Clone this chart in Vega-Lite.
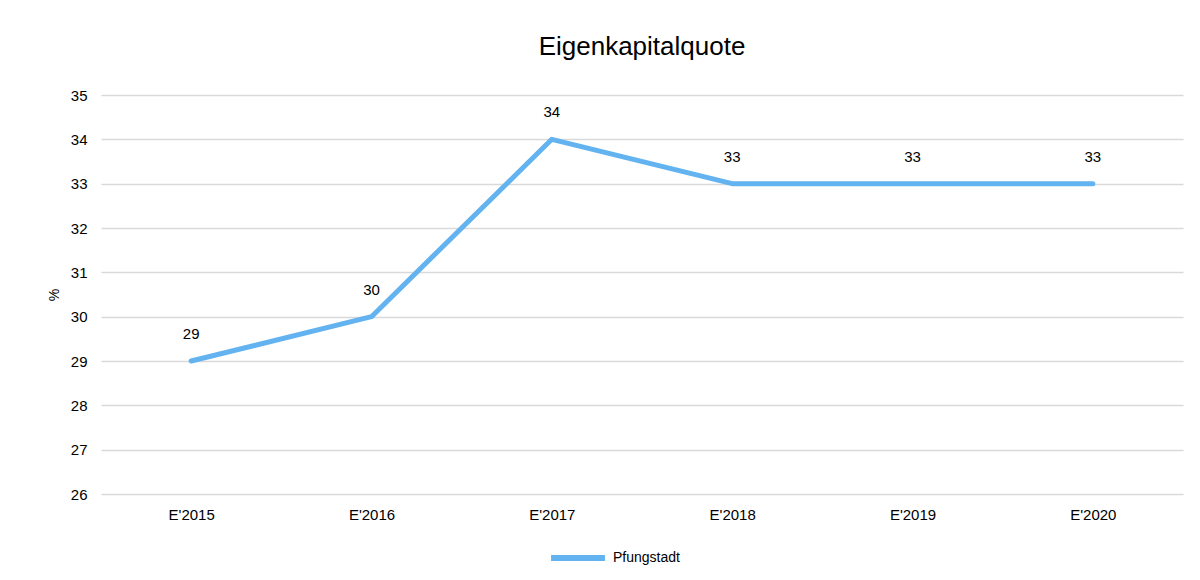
{
  "$schema": "https://vega.github.io/schema/vega-lite/v6.json",
  "autosize": "none",
  "width": 1082,
  "height": 399,
  "padding": {"left": 101, "top": 95, "right": 17, "bottom": 86},
  "background": "white",
  "title": {"text": "Eigenkapitalquote", "fontSize": 26, "font": "Liberation Sans", "fontWeight": "normal", "color": "#000000", "anchor": "middle", "offset": 28},
  "config": {
    "view": {"stroke": null},
    "font": "Liberation Sans"
  },
  "data": {"values": [
    {"jahr": "E'2015", "wert": 29, "serie": "Pfungstadt"},
    {"jahr": "E'2016", "wert": 30, "serie": "Pfungstadt"},
    {"jahr": "E'2017", "wert": 34, "serie": "Pfungstadt"},
    {"jahr": "E'2018", "wert": 33, "serie": "Pfungstadt"},
    {"jahr": "E'2019", "wert": 33, "serie": "Pfungstadt"},
    {"jahr": "E'2020", "wert": 33, "serie": "Pfungstadt"}
  ]},
  "encoding": {
    "x": {"field": "jahr", "type": "nominal", "sort": null,
      "scale": {"paddingInner": 0, "paddingOuter": 0},
      "axis": {"title": null, "labelAngle": 0, "labelFontSize": 15, "labelColor": "#000000", "domain": false, "ticks": false, "grid": false, "labelPadding": 13}},
    "y": {"field": "wert", "type": "quantitative",
      "scale": {"domain": [26, 35], "nice": false, "zero": false},
      "axis": {"title": "%", "titleFontSize": 14, "titleFontWeight": "normal", "titleColor": "#000000", "titlePadding": 9,
        "values": [26, 27, 28, 29, 30, 31, 32, 33, 34, 35],
        "labelFontSize": 15, "labelColor": "#000000", "labelPadding": 14, "domain": false, "ticks": false,
        "gridColor": "#d9d9d9", "gridWidth": 1.5}}
  },
  "layer": [
    {
      "mark": {"type": "line", "strokeWidth": 5, "strokeCap": "round", "strokeJoin": "round"},
      "encoding": {
        "color": {"field": "serie", "type": "nominal",
          "scale": {"range": ["#62b3f0"]},
          "legend": {"orient": "none", "legendX": 447, "legendY": 433, "direction": "horizontal", "title": null, "symbolType": "stroke", "symbolSize": 2900, "symbolStrokeWidth": 6, "symbolStrokeColor": "#62b3f0", "labelFontSize": 14, "labelColor": "#000000", "labelOffset": 5, "padding": 0}}
      }
    },
    {
      "mark": {"type": "text", "dy": -27, "fontSize": 15, "color": "#000000"},
      "encoding": {"text": {"field": "wert", "type": "quantitative"}}
    }
  ]
}
